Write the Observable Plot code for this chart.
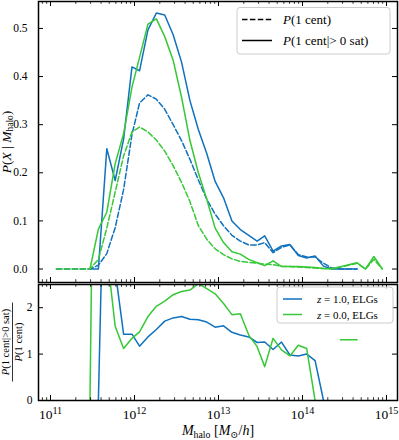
<!DOCTYPE html>
<html><head><meta charset="utf-8">
<script src="https://cdn.jsdelivr.net/npm/d3@7"></script>
<script src="https://cdn.jsdelivr.net/npm/@observablehq/plot@0.6"></script>
<style>
body{margin:0;background:#fff;}
#chart{width:399px;height:440px;position:relative;}
#chart svg{display:block;}
</style></head><body><div id="chart"></div>
<script>
// log10 halo mass at bin centres
const logMass = [11.07, 11.17, 11.27, 11.37, 11.47, 11.57, 11.67, 11.77, 11.87, 11.97,
  12.06, 12.16, 12.26, 12.36, 12.46, 12.56, 12.66, 12.76, 12.86, 12.96,
  13.06, 13.16, 13.26, 13.36, 13.46, 13.55, 13.65, 13.75, 13.85, 13.95,
  14.05, 14.15, 14.25, 14.35, 14.45, 14.55, 14.65, 14.75, 14.85, 14.95];
// z = 1.0 (blue)
const centZ1 = [0, 0, 0, 0, 0, 0.008, 0.032, 0.086, 0.165, 0.28,
  0.345, 0.362, 0.353, 0.332, 0.3, 0.267, 0.228, 0.185, 0.145, 0.114,
  0.09, 0.07, 0.058, 0.05, 0.05, 0.055, 0.034, 0.045, 0.05, 0.03,
  0.025, 0.025, 0.012, 0.002, 0, 0, 0, null, null, null];
const satZ1 = [null, null, null, null, 0, 0, 0.25, 0.184, 0.27, 0.42,
  0.412, 0.497, 0.532, 0.528, 0.487, 0.43, 0.35, 0.29, 0.24, 0.182,
  0.148, 0.1, 0.082, 0.07, 0.058, 0.069, 0.037, 0.048, 0.051, 0.028,
  0.023, 0.027, 0.006, 0, 0, 0, 0, null, null, null];
// z = 0.0 (green)
const centZ0 = [0, 0, 0, 0, 0, 0.02, 0.085, 0.16, 0.235, 0.285,
  0.295, 0.285, 0.268, 0.245, 0.215, 0.18, 0.14, 0.09, 0.062, 0.042,
  0.03, 0.021, 0.016, 0.014, 0.012, 0.01, 0.009, 0.006, 0.005, 0.004,
  0.003, 0.002, 0.001, 0.001, 0.004, 0.008, 0.012, 0, 0.02, 0];
const satZ0 = [null, null, null, null, 0, 0.083, 0.118, 0.219, 0.281, 0.378,
  0.44, 0.509, 0.52, 0.483, 0.434, 0.357, 0.267, 0.2, 0.145, 0.085,
  0.055, 0.036, 0.031, 0.02, 0.013, 0.007, 0.017, 0.005, 0.005, 0.005,
  0.004, 0.003, 0.001, 0, 0.005, 0.009, 0.013, 0, 0.026, 0];
// ratio P(1 cent | >0 sat) / P(1 cent)
const ratioZ1 = [null, null, null, null, null, 0, 7.8, 2.8, 1.43, 1.43,
  1.17, 1.37, 1.53, 1.71, 1.78, 1.81, 1.75, 1.74, 1.69, 1.58,
  1.61, 1.47, 1.41, 1.37, 1.25, 1.26, 1.10, 1.26, 0.98, 0.96,
  1.0, 0.86, 0, null, null, null, null, null, null, null];
const ratioZ0 = [null, null, null, null, 0, 15, 3.2, 1.6, 1.12, 1.34,
  1.48, 1.81, 2.03, 2.14, 2.28, 2.35, 2.38, 2.52, 2.41, 2.30,
  2.09, 1.85, 1.87, 1.41, 1.16, 0.73, 1.34, 1.09, 0.96, 1.19,
  1.12, 0, null, null, 1.31, 1.31, 1.31, null, null, null];
// ticks
const xMajor = [1e11, 1e12, 1e13, 1e14, 1e15];
const yTicksTop = [0, 0.1, 0.2, 0.3, 0.4, 0.5];
const yTicksBottom = [0, 1, 2];
const legendTopLabels = ["P(1 cent)", "P(1 cent|> 0 sat)"];
const legendBottomLabels = ["z = 1.0, ELGs", "z = 0.0, ELGs"];

const BLUE = "#1071bd", GREEN = "#36c836";
const FONT = "'Liberation Serif', 'DejaVu Serif', serif";
const xMinor = [];
for (let k = 10; k <= 14; k++) for (let j = 2; j <= 9; j++) xMinor.push(j * 10 ** k);
const xDomain = [10 ** 10.857, 10 ** 15.131];
const rows = logMass.map((m, i) => ({
  m: 10 ** m, centZ1: centZ1[i], satZ1: satZ1[i], centZ0: centZ0[i], satZ0: satZ0[i],
  ratioZ1: ratioZ1[i], ratioZ0: ratioZ0[i]
}));
const W = 399, ML = 38, MR = 2;
const PW = W - ML - MR;
const minorX = xMinor.filter(v => v > xDomain[0] && v < xDomain[1]);

function tickMarks(H, yTicks) {
  return [
    Plot.tickX(xMajor, {x: d => d, stroke: "black", strokeWidth: 1, insetTop: H - 5}),
    Plot.tickX(xMajor, {x: d => d, stroke: "black", strokeWidth: 1, insetBottom: H - 5}),
    Plot.tickX(minorX, {x: d => d, stroke: "black", strokeWidth: 0.8, insetTop: H - 2.8}),
    Plot.tickX(minorX, {x: d => d, stroke: "black", strokeWidth: 0.8, insetBottom: H - 2.8}),
    Plot.tickY(yTicks, {y: d => d, stroke: "black", strokeWidth: 1, insetRight: PW - 5}),
    Plot.tickY(yTicks, {y: d => d, stroke: "black", strokeWidth: 1, insetLeft: PW - 5})
  ];
}
const style = {fontFamily: FONT, fontSize: "12px", color: "black", background: "white", overflow: "visible"};

const H1 = 283, top1 = 1, bot1 = 1;
const topPlot = Plot.plot({
  width: W, height: H1, marginLeft: ML, marginRight: MR, marginTop: top1, marginBottom: bot1,
  style,
  x: {type: "log", domain: xDomain, axis: null},
  y: {domain: [-0.028, 0.556]},
  marks: [
    Plot.line(rows, {x: "m", y: "centZ1", stroke: BLUE, strokeWidth: 1.5, strokeDasharray: "5.5,2.4", clip: true}),
    Plot.line(rows, {x: "m", y: "satZ1", stroke: BLUE, strokeWidth: 1.5, clip: true}),
    Plot.line(rows, {x: "m", y: "centZ0", stroke: GREEN, strokeWidth: 1.5, strokeDasharray: "5.5,2.4", clip: true}),
    Plot.line(rows, {x: "m", y: "satZ0", stroke: GREEN, strokeWidth: 1.5, clip: true}),
    ...tickMarks(H1 - top1 - bot1, yTicksTop),
    Plot.axisY({ticks: yTicksTop, tickSize: 0, tickPadding: 11, tickFormat: d3.format(".1f"), label: null, fontSize: 11.5}),
    Plot.frame({stroke: "black", strokeWidth: 1.5})
  ]
});

const H2 = 157, top2 = 1, bot2 = 40;
const botPlot = Plot.plot({
  width: W, height: H2, marginLeft: ML, marginRight: MR, marginTop: top2, marginBottom: bot2,
  style,
  x: {type: "log", domain: xDomain},
  y: {domain: [0, 2.5]},
  marks: [
    Plot.line(rows, {x: "m", y: "ratioZ1", stroke: BLUE, strokeWidth: 1.5, clip: true}),
    Plot.line(rows, {x: "m", y: "ratioZ0", stroke: GREEN, strokeWidth: 1.5, clip: true}),
    ...tickMarks(H2 - top2 - bot2, yTicksBottom),
    Plot.axisY({ticks: yTicksBottom, tickSize: 0, tickPadding: 6, tickFormat: d => String(d), label: null, fontSize: 11.5}),
    Plot.axisX({ticks: xMajor, tickSize: 0, tickPadding: 9, tickFormat: d => String(Math.round(Math.log10(d))), label: null, fontSize: 13.5}),
    Plot.frame({stroke: "black", strokeWidth: 1.5})
  ]
});

const chart = document.getElementById("chart");
chart.append(topPlot, botPlot);

// x tick labels as 10^k
d3.select(botPlot).selectAll('g[aria-label="x-axis tick label"] text').each(function () {
  const e = this.textContent;
  const t = d3.select(this);
  t.text(null);
  t.append("tspan").text("10");
  t.append("tspan").attr("dy", "-0.55em").attr("font-size", "0.75em").text(e);
});

function rich(sel, parts, sub = 0.22) {
  // parts: [text, kind] kind: "i" italic, "r" roman, "sub" subscript
  let shift = false;
  for (const [s, kind] of parts) {
    const ts = sel.append("tspan").text(s);
    if (kind === "i") ts.attr("font-style", "italic");
    if (kind === "sub") {
      ts.attr("font-size", "0.7em").attr("dy", (sub / 0.7) + "em"); shift = true;
    } else if (shift) {
      ts.attr("dy", (-sub) + "em"); shift = false;
    }
  }
}

// top y label
const st = d3.select(topPlot);
const yl = st.append("text").attr("transform", "translate(11,142) rotate(-90)")
  .attr("text-anchor", "middle").attr("font-size", 13.5).attr("font-family", FONT).attr("fill", "black");
rich(yl, [["P", "i"], ["(", "r"], ["X", "i"], [" | ", "r"], ["M", "i"], ["halo", "sub"], [")", "r"]], 0.18);

// top legend
const lg = st.append("g").attr("font-family", FONT).attr("font-size", 13).attr("text-anchor", "start").attr("fill", "black");
lg.append("rect").attr("x", 237).attr("y", 7.5).attr("width", 153).attr("height", 46.5).attr("rx", 3)
  .attr("fill", "white").attr("fill-opacity", 0.8).attr("stroke", "#cccccc").attr("stroke-width", 1);
lg.append("line").attr("x1", 242).attr("x2", 272).attr("y1", 19.5).attr("y2", 19.5)
  .attr("stroke", "black").attr("stroke-width", 1.5).attr("stroke-dasharray", "5.5,2.4");
lg.append("line").attr("x1", 242).attr("x2", 272).attr("y1", 40.5).attr("y2", 40.5)
  .attr("stroke", "black").attr("stroke-width", 1.5);
rich(lg.append("text").attr("x", 283).attr("y", 24), [["P", "i"], [legendTopLabels[0].slice(1), "r"]]);
rich(lg.append("text").attr("x", 283).attr("y", 45), [["P", "i"], [legendTopLabels[1].slice(1), "r"]]);

// bottom y label (fraction)
const sb = d3.select(botPlot);
const fr = sb.append("g").attr("transform", "translate(0,59) rotate(-90)")
  .attr("font-family", FONT).attr("font-size", 10.5).attr("fill", "black");
rich(fr.append("text").attr("x", 0).attr("y", 9).attr("text-anchor", "middle"),
  [["P", "i"], ["(1 cent", "r"], ["|", "r"], [">0 sat)", "r"]]);
fr.append("line").attr("x1", -39.5).attr("x2", 39.5).attr("y1", 12.5).attr("y2", 12.5)
  .attr("stroke", "black").attr("stroke-width", 0.8);
rich(fr.append("text").attr("x", 0).attr("y", 22).attr("text-anchor", "middle"),
  [["P", "i"], ["(1 cent)", "r"]]);

// x label
const xl = sb.append("text").attr("x", 218).attr("y", 152).attr("text-anchor", "middle")
  .attr("font-size", 14).attr("font-family", FONT).attr("fill", "black");
rich(xl, [["M", "i"], ["halo", "sub"], [" [", "r"], ["M", "i"], ["\u2299", "sub"], ["/", "r"], ["h", "i"], ["]", "r"]]);

// bottom legend
const lb = sb.append("g").attr("font-family", FONT).attr("font-size", 11).attr("text-anchor", "start").attr("fill", "black");
lb.append("rect").attr("x", 277).attr("y", 4).attr("width", 116).attr("height", 36).attr("rx", 3)
  .attr("fill", "white").attr("fill-opacity", 0.8).attr("stroke", "#cccccc").attr("stroke-width", 1);
lb.append("line").attr("x1", 283).attr("x2", 302).attr("y1", 16).attr("y2", 16)
  .attr("stroke", BLUE).attr("stroke-width", 1.5);
lb.append("line").attr("x1", 283).attr("x2", 302).attr("y1", 31.5).attr("y2", 31.5)
  .attr("stroke", GREEN).attr("stroke-width", 1.5);
rich(lb.append("text").attr("x", 317).attr("y", 20), [["z", "i"], [legendBottomLabels[0].slice(1), "r"]]);
rich(lb.append("text").attr("x", 317).attr("y", 35.5), [["z", "i"], [legendBottomLabels[1].slice(1), "r"]]);
</script></body></html>
